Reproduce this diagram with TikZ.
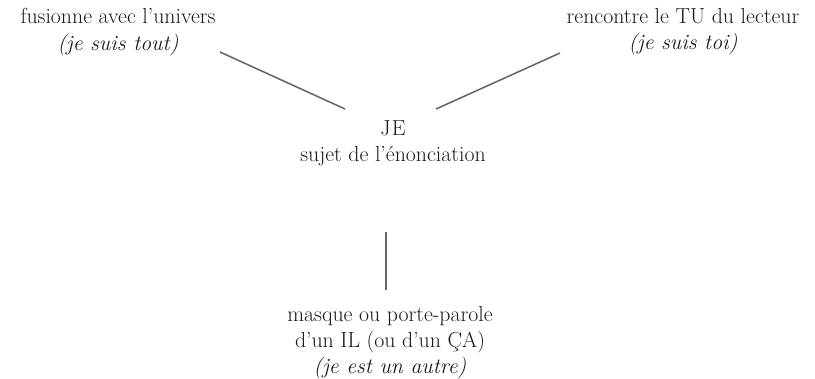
\documentclass[tikz,border=0pt]{standalone}
\begin{document}
\begin{tikzpicture}[x=0.025cm,y=-0.025cm,txt/.style={align=center,text=black!90,font=\fontsize{15.5}{18.6}\selectfont,inner sep=0pt},trait/.style={draw=black!60,line width=1.1pt}]
\useasboundingbox(0,0)rectangle(815,378);
\node[txt](univ)at(118,32){fusionne avec l'univers\\\textit{(je suis tout)}};\node[txt](tu)at(683,32){rencontre le TU du lecteur\\\textit{(je suis toi)}};
\node[txt](je)at(393,143){J\kern1pt E\\sujet de l'énonciation};\node[txt](il)at(390,343){masque ou porte-parole\\d'un IL (ou d'un ÇA)\\\textit{(je est un autre)}};
\draw[trait]([shift={(102,20)}]univ.center)--([shift={(-48,-34)}]je.center);\draw[trait]([shift={(-123,21)}]tu.center)--([shift={(43,-34)}]je.center);
\draw[trait]([shift={(-7,89)}]je.center)--([shift={(-4,-53)}]il.center);
\end{tikzpicture}
\end{document}
